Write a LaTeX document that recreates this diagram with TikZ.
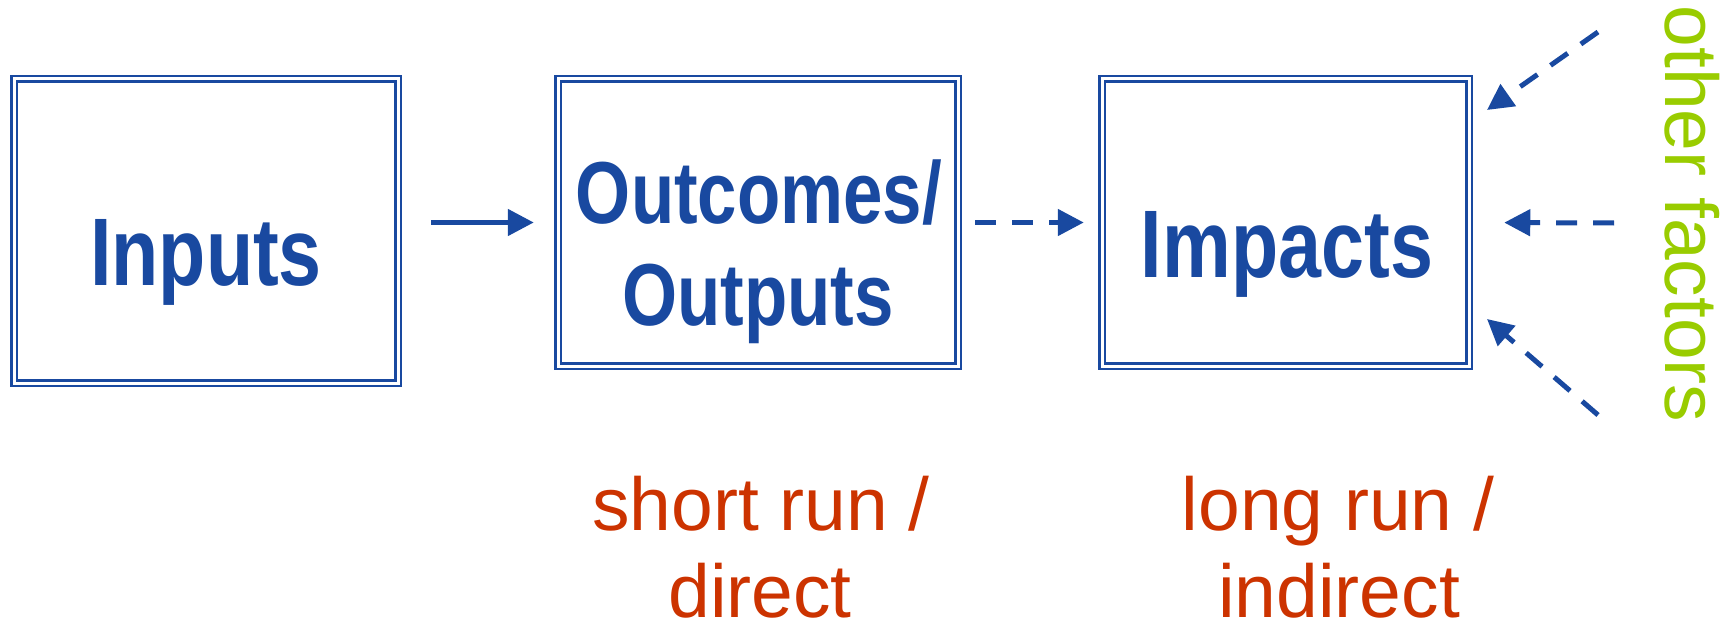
\documentclass[tikz,border=0pt]{standalone}
\usepackage{fontspec}
\setmainfont{Liberation Sans}
\newfontfamily\boxfont[FakeStretch=0.805]{Liberation Sans}
\usetikzlibrary{arrows.meta,calc}
\definecolor{dblue}{RGB}{25,73,160}
\definecolor{dred}{RGB}{204,51,0}
\definecolor{dgreen}{RGB}{153,204,0}
\tikzset{
  stagebox/.style={draw=dblue, double=white, double distance=3pt, line width=2.5pt, inner sep=0pt, minimum width=#1},
  boxtext/.style={text=dblue, anchor=base, inner sep=0pt, font=\boxfont\bfseries\fontsize{96}{110}\selectfont},
  boxtextsmall/.style={text=dblue, anchor=base, inner sep=0pt, font=\boxfont\bfseries\fontsize{88}{102}\selectfont},
  runtext/.style={text=dred, anchor=base, inner sep=0pt, font=\fontsize{75}{87}\selectfont},
  factortext/.style={text=dgreen, anchor=base, inner sep=0pt, rotate=-90, font=\fontsize{75}{87}\selectfont},
  flow/.style={draw=dblue, line width=5pt, -{Triangle[length=26pt,width=26pt]}},
  dflow/.style={flow, dash pattern=on 21pt off 16pt},
}
\begin{document}
\begin{tikzpicture}[x=1pt,y=-1pt]
\useasboundingbox (0,0) rectangle (1735,623);
% boxes
\node[stagebox=384pt, minimum height=304pt] (box1) at (206,231) {};
\node[stagebox=400pt, minimum height=287pt] (box2) at (758,222.5) {};
\node[stagebox=367pt, minimum height=287pt] (box3) at (1285.5,222.5) {};
% box texts
\node[boxtext] (t1) at (206,285) {Inputs};
\node[boxtextsmall] (t2a) at (759,223) {Outcomes/};
\node[boxtextsmall] (t2b) at (758,325) {Outputs};
\node[boxtext] (t3) at (1287,277) {Impacts};
% red texts
\node[runtext] (r1a) at (761,530) {short run /};
\node[runtext] (r1b) at (760,617) {direct};
\node[runtext] (r2a) at (1338,530) {long run /};
\node[runtext] (r2b) at (1339,617) {indirect};
% other factors
\node[factortext] (of) at (1665,214) {other factors};
% connectors
\draw[flow, shorten <=32pt, shorten >=23pt] (box1.east |- box2.west) -- (box2.west);
\draw[dflow, shorten <=16pt, shorten >=17pt] (box2.east) -- (box3.west);
\coordinate (s1) at (1598,32);
\coordinate (e1) at (1487,110);
\coordinate (s2) at (1614,223);
\coordinate (s3) at (1598,415);
\coordinate (e3) at (1487,319);
\draw[dflow] (s1) -- (e1);
\draw[dflow, shorten >=34pt] (s2) -- (box3.east);
\draw[dflow] (s3) -- (e3);
\end{tikzpicture}
\end{document}
